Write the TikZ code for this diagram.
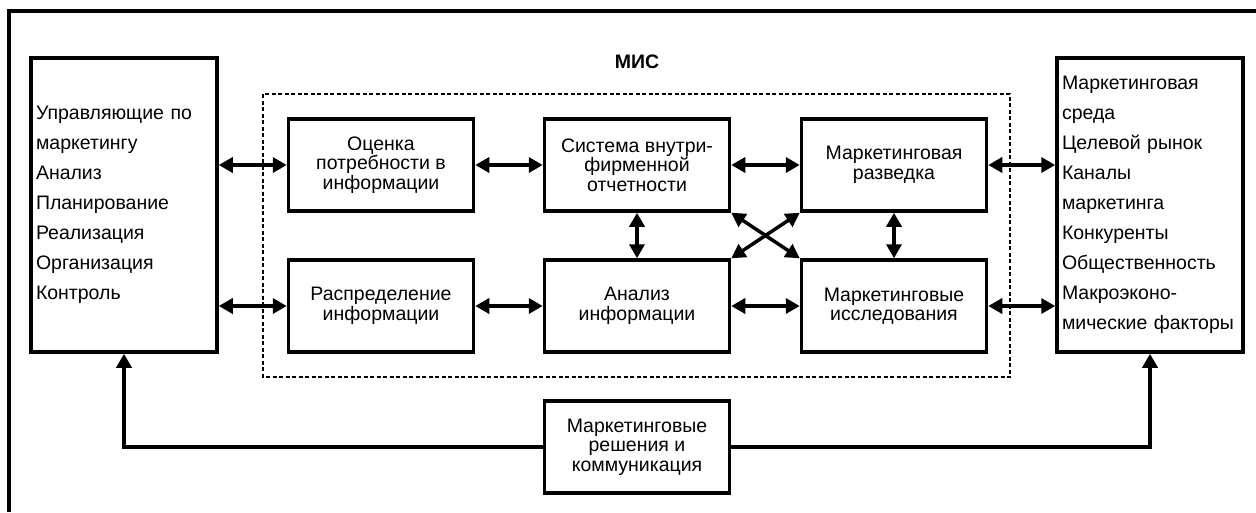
\documentclass[tikz,border=0pt]{standalone}
\usepackage{fontspec}
\setmainfont{Liberation Sans}
\usetikzlibrary{arrows.meta}
\tikzset{%
  block/.style={%
    rectangle,%
    draw,%
    line width=3.5pt,%
    minimum width=185pt,%
    minimum height=92pt,%
    align=center,%
    font=\fontsize{19.5}{19.5}\selectfont},
  sidebox/.style={%
    rectangle,%
    draw,%
    line width=3.5pt,%
    text width=176pt,%
    inner xsep=5pt,%
    minimum height=294pt,%
    align=left,%
    font=\fontsize{19.5}{30}\selectfont},
  link/.style={%
    line width=3.5pt,%
    {Triangle[length=14pt,width=15pt]}-{Triangle[length=14pt,width=15pt]}},
  feed/.style={%
    line width=3.5pt,%
    -{Triangle[length=14pt,width=15pt]}}
}
\begin{document}
\begin{tikzpicture}[x=1pt,y=-1pt]
  \useasboundingbox (0,0) rectangle (1256,512);
  % frame
  \draw[line width=3.5pt] (1256,11) -| (9,512);
  % MIS area
  \draw[line width=1.7pt,dash pattern=on 4pt off 2.5pt] (263,94) rectangle (1010,377);
  \node[font=\bfseries\fontsize{19.5}{19.5}\selectfont] (mis) at (637,62) {МИС};
  % outer boxes
  \node [sidebox] (mgr) at (124,205) {%
    Управляющие по\\
    маркетингу\\
    Анализ\\
    Планирование\\
    Реализация\\
    Организация\\
    Контроль};
  \node [sidebox] (env) at (1150,205) {%
    Маркетинговая\\
    среда\\
    Целевой рынок\\
    Каналы\\
    маркетинга\\
    Конкуренты\\
    Общественность\\
    Макроэконо-\\
    мические факторы};
  % inner blocks
  \node [block] (need) at (381,165) {Оценка\\ потребности в\\ информации};
  \node [block] (intern) at (637,165) {Система внутри-\\ фирменной\\ отчетности};
  \node [block] (intel) at (894,165) {Маркетинговая\\ разведка};
  \node [block] (distr) at (381,306) {Распределение\\ информации};
  \node [block] (anal) at (637,306) {Анализ\\ информации};
  \node [block] (research) at (894,306) {Маркетинговые\\ исследования};
  \node [block] (decis) at (637,447) {Маркетинговые\\ решения и\\ коммуникация};
  % links
  \draw[link] (mgr.east |- need) -- (need.west);
  \draw[link] (mgr.east |- distr) -- (distr.west);
  \draw[link] (need) -- (intern);
  \draw[link] (distr) -- (anal);
  \draw[link] (intern) -- (intel);
  \draw[link] (anal) -- (research);
  \draw[link] (intel.east) -- (env.west |- intel);
  \draw[link] (research.east) -- (env.west |- research);
  \draw[link] (intern) -- (anal);
  \draw[link] (intel) -- (research);
  \draw[link] (intern.south east) -- (research.north west);
  \draw[link] (intel.south west) -- (anal.north east);
  % feedback
  \draw[feed] (decis.west) -| (mgr.south);
  \draw[feed] (decis.east) -| (env.south);
\end{tikzpicture}
\end{document}
